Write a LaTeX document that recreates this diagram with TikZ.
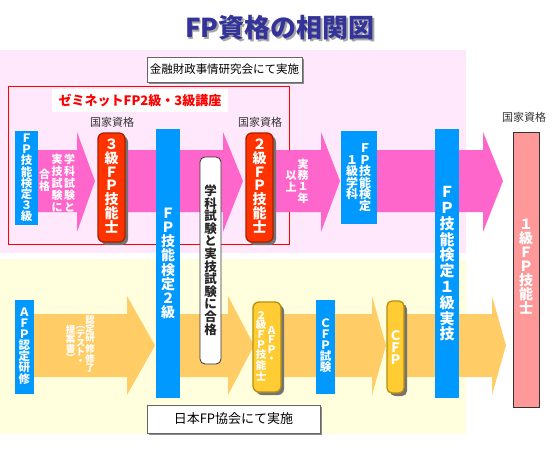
\documentclass[tikz,border=0pt]{standalone}
\usepackage{fontspec}
\setmainfont{Noto Sans CJK JP}
\definecolor{pinkbg}{HTML}{FFE8FC}
\definecolor{yelbg}{HTML}{FFFFDD}
\definecolor{pinkarr}{HTML}{FF66CC}
\definecolor{orarr}{HTML}{FFCC66}
\definecolor{barblue}{HTML}{0099FF}
\definecolor{redbox}{HTML}{FF3300}
\definecolor{rededge}{HTML}{A82000}
\definecolor{orbox}{HTML}{FFCC33}
\definecolor{oredge}{HTML}{B8900A}
\definecolor{pinkbox}{HTML}{FF9999}
\definecolor{titleblue}{HTML}{333399}
\definecolor{labgray}{HTML}{333333}
\begin{document}
\begin{tikzpicture}[x=1pt,y=-1pt,
  vt/.style={align=center,inner sep=0pt,text=white},
  barbox/.style={fill=barblue,draw=none},
  redq/.style={fill=redbox,draw=rededge,line width=1.3pt,rounded corners=6pt},
  orq/.style={fill=orbox,draw=oredge,line width=1.3pt,rounded corners=6pt},
  shad/.style={fill=black!55,rounded corners=6pt},
  infobox/.style={fill=white,draw=black!60,line width=0.8pt,inner sep=0pt,text=black},
  natlab/.style={inner sep=0pt,text=labgray,font=\fontsize{11}{12}\selectfont}]
\useasboundingbox (0,0) rectangle (555,450);
\fill[white] (0,0) rectangle (555,450);
% backgrounds
\fill[pinkbg] (0,50) rectangle (466,253);
\fill[yelbg] (0,259) rectangle (466,434);
% title
\node[inner sep=0pt,text=black!35,font=\fontsize{26}{28}\selectfont\bfseries] (titleshadow) at (281.5,29.5) {FP資格の相関図};
\node[inner sep=0pt,text=titleblue,font=\fontsize{26}{28}\selectfont\bfseries] (title) at (280,28) {FP資格の相関図};
% top info box
\fill[black!45] (149,59) rectangle (304,84);
\node[infobox,minimum width=155pt,minimum height=25pt,font=\fontsize{11.5}{12}\selectfont] (kinzai) at (224.5,69.5) {金融財政事情研究会にて実施};
% red frame
\draw[red,line width=0.9pt] (8,86) rectangle (289,244);
\node[fill=white,inner sep=0pt,minimum width=176pt,minimum height=23pt,text=red,font=\fontsize{13}{14}\selectfont\bfseries] (zemi) at (140,100.5) {ゼミネットFP2級・3級講座};
% pink arrows (upper row)
\fill[pinkarr] (38,150) -- (77,150) -- (77,132) -- (95,181) -- (77,232) -- (77,212) -- (38,212) -- cycle;
\fill[pinkarr] (125,150) -- (223,150) -- (223,132) -- (243,181) -- (223,232) -- (223,212) -- (125,212) -- cycle;
\fill[pinkarr] (273,150) -- (321,150) -- (321,132) -- (340,181) -- (321,232) -- (321,212) -- (273,212) -- cycle;
\fill[pinkarr] (377,150) -- (483,150) -- (483,132) -- (503,181) -- (483,232) -- (483,212) -- (377,212) -- cycle;
% orange arrows (lower row)
\fill[orarr] (34,314) -- (127,314) -- (127,296) -- (155,345.5) -- (127,395) -- (127,377) -- (34,377) -- cycle;
\fill[orarr] (180,314) -- (228,314) -- (228,296) -- (254,345.5) -- (228,395) -- (228,377) -- (180,377) -- cycle;
\fill[orarr] (281,314) -- (372,314) -- (372,296) -- (386,345.5) -- (372,395) -- (372,377) -- (281,377) -- cycle;
\fill[orarr] (404,314) -- (492,314) -- (492,296) -- (506,345.5) -- (492,395) -- (492,377) -- (404,377) -- cycle;
% texts on arrows
\node[vt,font=\fontsize{11}{12}\selectfont\bfseries] (gk1) at (69.5,183) {学\\科\\試\\験\\と};
\node[vt,font=\fontsize{11}{12}\selectfont\bfseries] (gk2) at (57,183) {実\\技\\試\\験\\に};
\node[vt,font=\fontsize{11}{12}\selectfont\bfseries] (gk3) at (44.5,180) {合\\格};
\node[vt,font=\fontsize{11}{11.3}\selectfont\bfseries] (jm1) at (303,181) {実\\務\\１\\年};
\node[vt,font=\fontsize{11}{11.3}\selectfont\bfseries] (jm2) at (291,181.5) {以\\上};
\node[vt,font=\fontsize{9.5}{9}\selectfont\bfseries] (nt1) at (90,344) {認\\定\\研\\修\\修\\了};
\node[vt,font=\fontsize{9.5}{9}\selectfont\bfseries] (nt2) at (80.5,345) {︵\\テ\\ス\\ト\\・};
\node[vt,font=\fontsize{9.5}{9}\selectfont\bfseries] (nt3) at (70.5,343) {提\\案\\書\\︶};
% national qualification labels
\node[natlab] (nat3) at (112,122) {国家資格};
\node[natlab] (nat2) at (260,122) {国家資格};
\node[natlab] (nat1) at (524,117) {国家資格};
% blue bars
\fill[barbox] (15,131) rectangle (38,225);
\node[vt,font=\fontsize{11.5}{11.2}\selectfont\bfseries] (fp3) at (26.5,178) {Ｆ\\Ｐ\\技\\能\\検\\定\\３\\級};
\fill[barbox] (156,129) rectangle (180,398);
\node[vt,font=\fontsize{14}{14.2}\selectfont\bfseries] (fp2) at (168,263.5) {Ｆ\\Ｐ\\技\\能\\検\\定\\２\\級};
\fill[barbox] (341,131) rectangle (377,224);
\node[vt,font=\fontsize{12}{11.5}\selectfont\bfseries] (fp1ga) at (365,177.5) {Ｆ\\Ｐ\\技\\能\\検\\定};
\node[vt,font=\fontsize{12}{11.5}\selectfont\bfseries] (fp1gb) at (352,177.5) {１\\級\\学\\科};
\fill[barbox] (435,129) rectangle (459,398);
\node[vt,font=\fontsize{15}{15.8}\selectfont\bfseries] (fp1j) at (447,264) {Ｆ\\Ｐ\\技\\能\\検\\定\\１\\級\\実\\技};
\fill[barbox] (15,300) rectangle (34,394);
\node[vt,font=\fontsize{11.5}{11}\selectfont\bfseries] (afpk) at (24.5,346.5) {Ａ\\Ｆ\\Ｐ\\認\\定\\研\\修};
\fill[barbox] (316,300) rectangle (335,394);
\node[vt,font=\fontsize{11.5}{11}\selectfont\bfseries] (cfpx) at (325.5,345.5) {Ｃ\\Ｆ\\Ｐ\\試\\験};
% white box
\draw[fill=white,draw=black!80,line width=0.8pt,rounded corners=5pt] (200,157) rectangle (221,364);
\node[vt,text=black!85,font=\fontsize{12.5}{12.6}\selectfont\bfseries] (pass2) at (210.5,260) {学\\科\\試\\験\\と\\実\\技\\試\\験\\に\\合\\格};
% red boxes
\fill[shad] (101,136) rectangle (128,245);
\draw[redq] (98,133) rectangle (125,242);
\node[vt,font=\fontsize{14}{13.7}\selectfont\bfseries] (fp3s) at (111.5,186) {３\\級\\Ｆ\\Ｐ\\技\\能\\士};
\fill[shad] (249,136) rectangle (276,245);
\draw[redq] (246,133) rectangle (273,242);
\node[vt,font=\fontsize{14}{13.7}\selectfont\bfseries] (fp2s) at (259.5,186) {２\\級\\Ｆ\\Ｐ\\技\\能\\士};
% orange boxes
\fill[shad] (256,305) rectangle (284,395);
\draw[orq] (253,302) rectangle (281,392);
\node[vt,font=\fontsize{10.5}{9.8}\selectfont\bfseries] (afpa) at (261,346) {２\\級\\Ｆ\\Ｐ\\技\\能\\士};
\node[vt,font=\fontsize{10.5}{9.5}\selectfont\bfseries] (afpb) at (271.5,344.5) {Ａ\\Ｆ\\Ｐ\\・};
\fill[shad,rounded corners=5pt] (390,304) rectangle (407,396);
\draw[orq,rounded corners=5pt] (387,301) rectangle (404,393);
\node[vt,font=\fontsize{13}{12}\selectfont\bfseries] (cfp) at (395.5,348) {Ｃ\\Ｆ\\Ｐ};
% 1st grade box
\draw[fill=pinkbox,draw=black!80,line width=0.9pt] (513,132) rectangle (539,407);
\node[vt,font=\fontsize{14}{13.9}\selectfont\bfseries] (fp1s) at (526,266.5) {１\\級\\Ｆ\\Ｐ\\技\\能\\士};
% bottom info box
\fill[black!45] (149,407) rectangle (322,435);
\node[infobox,minimum width=173pt,minimum height=28pt,font=\fontsize{13}{14}\selectfont] (jafp) at (233.5,419) {日本FP協会にて実施};
\end{tikzpicture}
\end{document}
